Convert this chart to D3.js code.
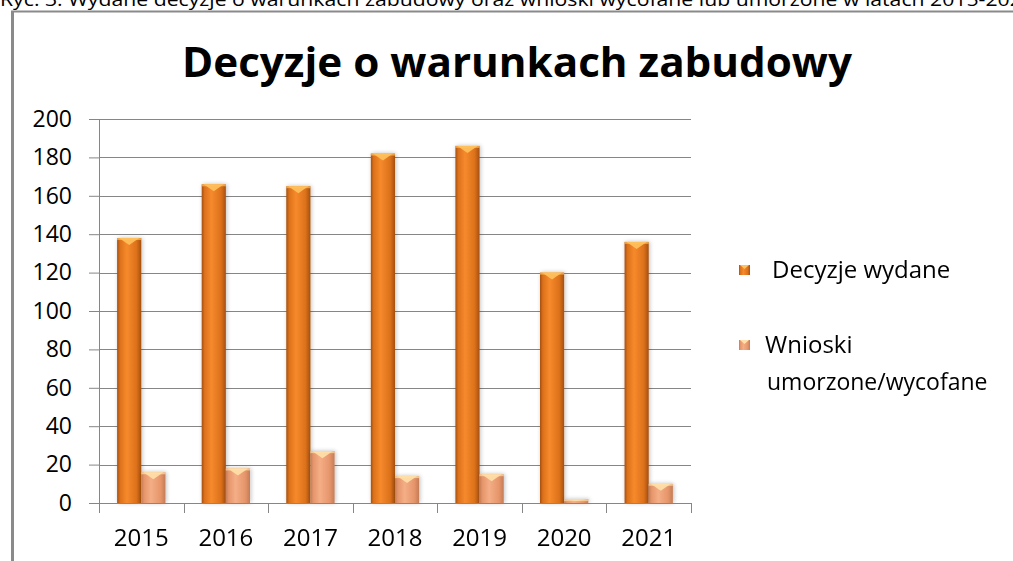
<!DOCTYPE html>
<meta charset="utf-8">
<head>
<style>
  body { margin: 0; background: #fff; }
  svg text { font-family: "Open Sans", "DejaVu Sans", sans-serif; fill: #000; }
</style>
</head>
<script src="https://d3js.org/d3.v7.min.js"></script>
<body>
<div id="my_dataviz"></div>
<script>
// data
var years = ["2015", "2016", "2017", "2018", "2019", "2020", "2021"];
var wydane = [138, 166, 165, 182, 186, 120, 136];
var umorzone = [16, 18, 27, 14, 15, 2, 10];
var seriesNames = ["Decyzje wydane", "Wnioski umorzone/wycofane"];
var yTicks = [0, 20, 40, 60, 80, 100, 120, 140, 160, 180, 200];

var W = 1013, H = 561;
var plot = {left: 99, right: 691, top: 119, bottom: 503};

var svg = d3.select("#my_dataviz")
  .append("svg")
    .attr("width", W)
    .attr("height", H);

// gradients for the bevelled excel bars
var defs = svg.append("defs");
function barGrad(id, edge, mid, light) {
  var g = defs.append("linearGradient").attr("id", id)
    .attr("x1", "0%").attr("x2", "100%").attr("y1", "0%").attr("y2", "0%");
  g.append("stop").attr("offset", "0%").attr("stop-color", edge);
  g.append("stop").attr("offset", "12%").attr("stop-color", mid);
  g.append("stop").attr("offset", "40%").attr("stop-color", light);
  g.append("stop").attr("offset", "80%").attr("stop-color", mid);
  g.append("stop").attr("offset", "100%").attr("stop-color", edge);
}
barGrad("gOrange", "#a4500f", "#dc711b", "#f68a2c");
barGrad("gPeach", "#c47c57", "#e6956a", "#f4ae86");
var sh = defs.append("filter").attr("id", "shadow").attr("x", "-30%").attr("y", "-10%")
  .attr("width", "160%").attr("height", "120%");
sh.append("feGaussianBlur").attr("in", "SourceAlpha").attr("stdDeviation", 2).attr("result", "b");
sh.append("feOffset").attr("in", "b").attr("dx", 1).attr("dy", 0).attr("result", "o");
sh.append("feComponentTransfer").attr("in", "o").attr("result", "o2")
  .append("feFuncA").attr("type", "linear").attr("slope", 0.25);
var mg = sh.append("feMerge");
mg.append("feMergeNode").attr("in", "o2");
mg.append("feMergeNode").attr("in", "SourceGraphic");

// caption above the chart (cut off by the page, as in the source)
svg.append("text")
  .attr("x", 0).attr("y", 6)
  .attr("textLength", 1034).attr("lengthAdjust", "spacingAndGlyphs")
  .style("font-size", "19px")
  .text("Ryc. 3. Wydane decyzje o warunkach zabudowy oraz wnioski wycofane lub umorzone w latach 2015-2021");

// chart frame
svg.append("line").attr("x1", 11).attr("x2", W).attr("y1", 11.5).attr("y2", 11.5)
  .attr("stroke", "#8a8a8a").attr("stroke-width", 2);
svg.append("line").attr("x1", 12.5).attr("x2", 12.5).attr("y1", 11).attr("y2", H)
  .attr("stroke", "#8a8a8a").attr("stroke-width", 3);

// title
svg.append("text")
  .attr("x", 517).attr("y", 77)
  .attr("text-anchor", "middle")
  .attr("textLength", 670).attr("lengthAdjust", "spacingAndGlyphs")
  .style("font-size", "42px").style("font-weight", "bold")
  .text("Decyzje o warunkach zabudowy");

var x = d3.scaleBand().domain(years).range([plot.left, plot.right]).paddingInner(0).paddingOuter(0);
var y = d3.scaleLinear().domain([0, 200]).range([plot.bottom, plot.top]);

// gridlines + y axis
var yAxis = svg.append("g")
  .attr("transform", "translate(" + plot.left + ",0)")
  .call(d3.axisLeft(y).tickValues(yTicks).tickSize(10).tickPadding(17));
yAxis.select(".domain").attr("stroke", "#868686");
yAxis.selectAll(".tick line").attr("stroke", "#868686");
yAxis.selectAll(".tick text").style("font-size", "23px").style("font-family", "'Open Sans', sans-serif");

svg.append("g").selectAll("line").data(yTicks.slice(1)).enter().append("line")
  .attr("x1", plot.left).attr("x2", plot.right)
  .attr("y1", function(d) { return Math.round(y(d)) + 0.5; })
  .attr("y2", function(d) { return Math.round(y(d)) + 0.5; })
  .attr("stroke", "#868686");

// bars
var bw = x.bandwidth() / 3.5;
var off = (x.bandwidth() - 2 * bw) / 2;

function drawSeries(vals, gradId, capColor, k) {
  var g = svg.append("g").attr("filter", "url(#shadow)");
  var bars = g.selectAll("g").data(vals).enter().append("g");
  bars.append("rect")
    .attr("x", function(d, i) { return x(years[i]) + off + k * bw; })
    .attr("y", function(d) { return y(d); })
    .attr("width", bw)
    .attr("height", function(d) { return y(0) - y(d); })
    .attr("fill", "url(#" + gradId + ")");
  // top bevel highlight
  bars.append("path")
    .attr("d", function(d, i) {
      var x0 = x(years[i]) + off + k * bw, y0 = y(d);
      var hgt = Math.min(7, (y(0) - y(d)) / 2);
      return "M" + (x0 + 2) + "," + y0 + "L" + (x0 + bw - 2) + "," + y0 +
        "L" + (x0 + bw / 2) + "," + (y0 + hgt) + "Z";
    })
    .attr("fill", capColor).attr("opacity", 0.9);
  bars.append("rect")
    .attr("x", function(d, i) { return x(years[i]) + off + k * bw; })
    .attr("y", function(d) { return y(d); })
    .attr("width", bw).attr("height", 2)
    .attr("fill", capColor).attr("opacity", 0.7);
}
drawSeries(wydane, "gOrange", "#ffc25e", 0);
drawSeries(umorzone, "gPeach", "#ffe0a8", 1);

// x axis
svg.append("line").attr("x1", plot.left).attr("x2", plot.right)
  .attr("y1", plot.bottom + 0.5).attr("y2", plot.bottom + 0.5).attr("stroke", "#868686");
var bounds = years.map(function(d) { return x(d); }).concat([plot.right]);
svg.append("g").selectAll("line").data(bounds).enter().append("line")
  .attr("x1", function(d) { return Math.round(d) + 0.5; })
  .attr("x2", function(d) { return Math.round(d) + 0.5; })
  .attr("y1", plot.bottom).attr("y2", plot.bottom + 10)
  .attr("stroke", "#868686");
svg.append("g").selectAll("text").data(years).enter().append("text")
  .attr("x", function(d) { return x(d) + x.bandwidth() / 2; })
  .attr("y", 546)
  .attr("text-anchor", "middle")
  .style("font-size", "24px")
  .text(function(d) { return d; });

// legend
var leg = svg.append("g");
leg.append("rect").attr("x", 739).attr("y", 265).attr("width", 11).attr("height", 10)
  .attr("fill", "url(#gOrange)");
leg.append("path").attr("d", "M740,265L749,265L744.5,269Z").attr("fill", "#ffc25e");
leg.append("text").attr("x", 772).attr("y", 278).style("font-size", "24px").text(seriesNames[0]);
leg.append("rect").attr("x", 739).attr("y", 340).attr("width", 11).attr("height", 10)
  .attr("fill", "url(#gPeach)");
leg.append("path").attr("d", "M740,340L749,340L744.5,344Z").attr("fill", "#ffe0a8");
leg.append("text").attr("x", 765).attr("y", 353).style("font-size", "24px").text("Wnioski");
leg.append("text").attr("x", 767).attr("y", 390).style("font-size", "23px").text("umorzone/wycofane");
</script>
</body>
